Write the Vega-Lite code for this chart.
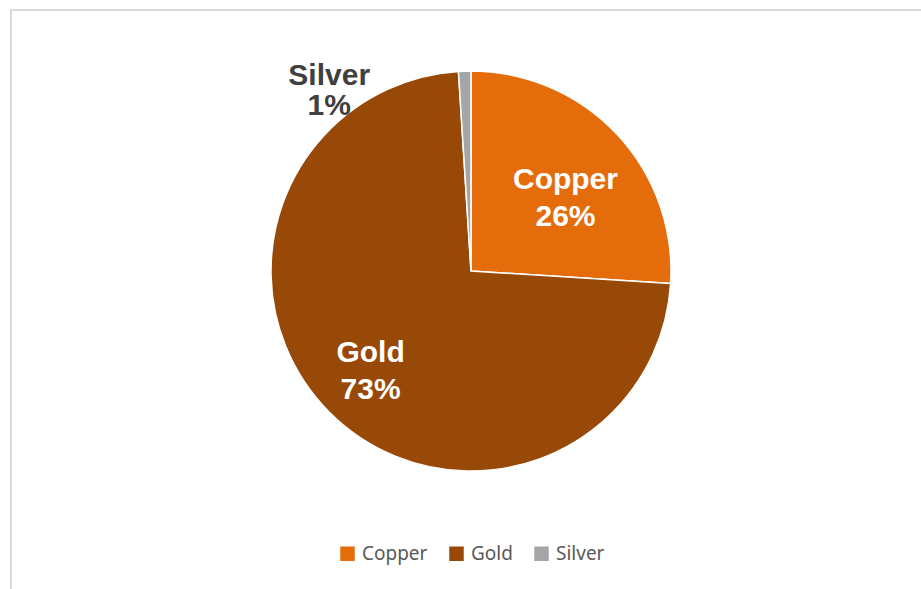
{
  "$schema": "https://vega.github.io/schema/vega-lite/v6.json",
  "autosize": "none",
  "padding": {"left": 11, "top": 10, "right": 0, "bottom": 0},
  "width": 920,
  "height": 590,
  "background": "white",
  "view": {"stroke": "#d9d9d9", "strokeWidth": 2},
  "config": {
    "view": {"stroke": "#d9d9d9", "strokeWidth": 2},
    "font": "Liberation Sans"
  },
  "data": {
    "values": [
      {"category": "Copper", "share": 0.26},
      {"category": "Gold", "share": 0.73},
      {"category": "Silver", "share": 0.01}
    ]
  },
  "encoding": {
    "theta": {"field": "share", "type": "quantitative", "stack": true},
    "order": {"field": "category", "type": "ordinal", "sort": "ascending"},
    "color": {
      "field": "category",
      "type": "nominal",
      "scale": {"domain": ["Copper", "Gold", "Silver"], "range": ["#E46C0A", "#984807", "#A5A5A5"]},
      "legend": {
        "title": null,
        "orient": "none",
        "direction": "horizontal",
        "legendX": 327,
        "legendY": 534,
        "symbolType": "square",
        "symbolSize": 210,
        "symbolStrokeWidth": 0,
        "labelFont": "Noto Sans",
        "labelFontSize": 19,
        "labelColor": "#595959",
        "labelOffset": 5,
        "columnPadding": 19,
        "padding": 0
      }
    }
  },
  "layer": [
    {
      "mark": {"type": "arc", "outerRadius": 200, "stroke": "white", "strokeWidth": 1.5, "yOffset": -34}
    },
    {
      "mark": {"type": "text", "radius": 120, "yOffset": -34, "dx": 7, "dy": -9, "fontSize": 30, "fontWeight": "bold"},
      "encoding": {
        "text": {"condition": {"test": "datum.category === 'Copper'", "field": "category"}, "value": ""},
        "color": {"value": "white"}
      }
    },
    {
      "mark": {"type": "text", "radius": 120, "yOffset": -34, "dx": 7, "dy": 28, "fontSize": 30, "fontWeight": "bold"},
      "encoding": {
        "text": {"condition": {"test": "datum.category === 'Copper'", "field": "share", "format": ".0%"}, "value": ""},
        "color": {"value": "white"}
      }
    },
    {
      "mark": {"type": "text", "radius": 142, "yOffset": -34, "dy": -18, "fontSize": 30, "fontWeight": "bold"},
      "encoding": {
        "text": {"condition": {"test": "datum.category === 'Gold'", "field": "category"}, "value": ""},
        "color": {"value": "white"}
      }
    },
    {
      "mark": {"type": "text", "radius": 142, "yOffset": -34, "dy": 19, "fontSize": 30, "fontWeight": "bold"},
      "encoding": {
        "text": {"condition": {"test": "datum.category === 'Gold'", "field": "share", "format": ".0%"}, "value": ""},
        "color": {"value": "white"}
      }
    },
    {
      "transform": [{"filter": "datum.category === 'Silver'"}],
      "mark": {"type": "text", "radius": 239, "theta": -0.699, "yOffset": -34, "dx": 12, "dy": -12, "fontSize": 30, "fontWeight": "bold"},
      "encoding": {"theta": null, "order": null, "text": {"field": "category"}, "color": {"value": "#404040"}}
    },
    {
      "transform": [{"filter": "datum.category === 'Silver'"}],
      "mark": {"type": "text", "radius": 239, "theta": -0.699, "yOffset": -34, "dx": 12, "dy": 18, "fontSize": 30, "fontWeight": "bold"},
      "encoding": {"theta": null, "order": null, "text": {"field": "share", "format": ".0%"}, "color": {"value": "#404040"}}
    }
  ]
}
